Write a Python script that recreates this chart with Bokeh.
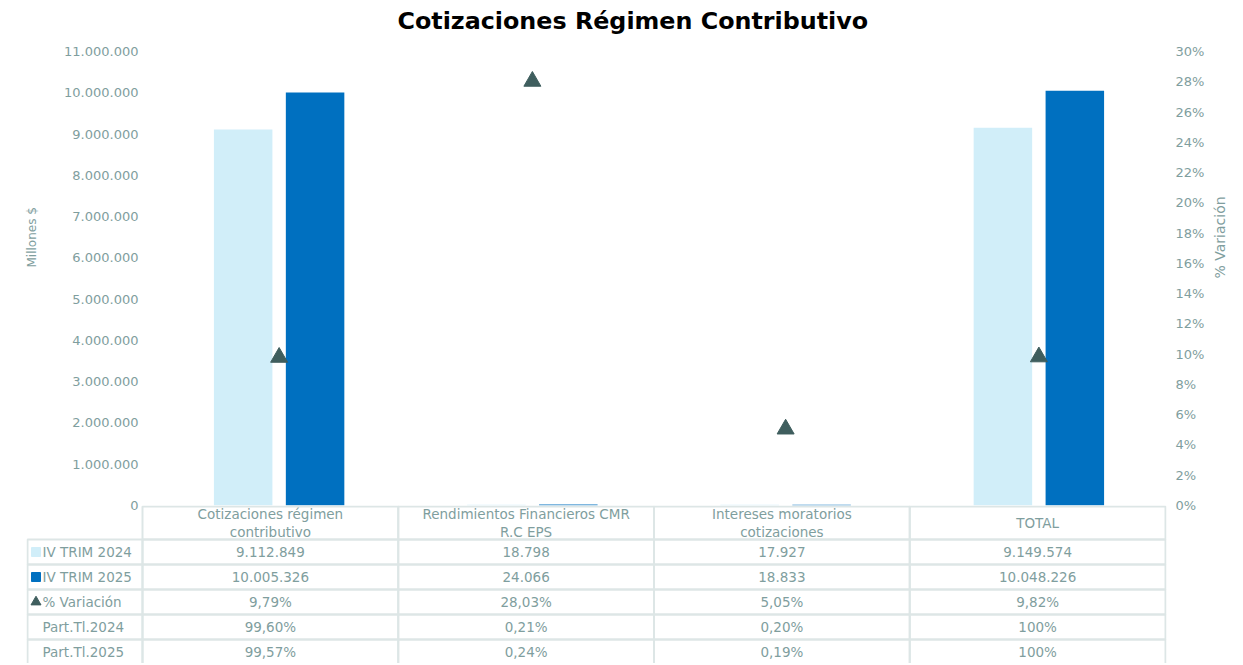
import math
import numpy as np
from bokeh.plotting import figure
from bokeh.models import (ColumnDataSource, Range1d, LinearAxis, FixedTicker,
                          CustomJSTickFormatter, Title)
from bokeh.transform import dodge
from bokeh.core.properties import value
from bokeh.embed import file_html
from bokeh.resources import INLINE

# ---------------- data ----------------
categories = ["Cotizaciones régimen\ncontributivo",
              "Rendimientos Financieros CMR\nR.C EPS",
              "Intereses moratorios\ncotizaciones",
              "TOTAL"]
trim_2024 = [9112849, 18798, 17927, 9149574]
trim_2025 = [10005326, 24066, 18833, 10048226]
variacion = [9.79, 28.03, 5.05, 9.82]
part_2024 = [99.60, 0.21, 0.20, 100]
part_2025 = [99.57, 0.24, 0.19, 100]
row_labels = ["IV TRIM 2024", "IV TRIM 2025", "% Variación", "Part.Tl.2024", "Part.Tl.2025"]
left_ticks = [0, 1000000, 2000000, 3000000, 4000000, 5000000, 6000000,
              7000000, 8000000, 9000000, 10000000, 11000000]
right_ticks = [0, 2, 4, 6, 8, 10, 12, 14, 16, 18, 20, 22, 24, 26, 28, 30]

# ---------------- style ----------------
C24 = "#D1EEF9"
C25 = "#0070C0"
CTRI = "#3F5E5E"
TXT = "#7F9E9E"
GRID = "#DDE6E6"
FONT = "DejaVu Sans"

Y_MAX = 11000000
P_MAX = 30


def fmt_int(v):
    return f"{v:,}".replace(",", ".")


def fmt_pct(v):
    if v == 100:
        return "100%"
    return f"{v:.2f}%".replace(".", ",")


def bare_axis(ax):
    ax.major_tick_out = 0
    ax.major_tick_in = 0
    ax.minor_tick_out = 0
    ax.minor_tick_in = 0
    ax.axis_line_color = None
    ax.major_tick_line_color = None
    ax.minor_tick_line_color = None
    ax.major_label_text_font = FONT
    ax.major_label_text_font_size = "13px"
    ax.major_label_text_color = TXT
    ax.axis_label_text_font = FONT
    ax.axis_label_text_font_style = "normal"
    ax.axis_label_text_color = TXT


n = len(categories)
xs = np.arange(n) + 0.5

src = ColumnDataSource(dict(x=xs, y24=trim_2024, y25=trim_2025, var=variacion))

# ---------------- chart ----------------
p = figure(width=1243, height=525, x_range=Range1d(0, n), y_range=Range1d(0, Y_MAX),
           output_backend="svg", toolbar_location=None,
           x_axis_location=None,
           min_border_left=142, min_border_right=78, min_border_top=51, min_border_bottom=8)
p.margin = (-12, 0, 0, 0)
p.title.text = "Cotizaciones Régimen Contributivo"
p.title.align = "left"
p.title.offset = 245
p.title.standoff = 33
p.title.text_font = FONT
p.title.text_font_size = "23.8px"
p.title.text_font_style = "bold"
p.title.text_color = "#000000"
p.grid.visible = False
p.outline_line_color = None
p.border_fill_color = None

p.vbar(x=dodge("x", -0.142, range=p.x_range), top="y24", width=0.231, source=src,
       fill_color=C24, line_color=None)
p.vbar(x=dodge("x", 0.142, range=p.x_range), top="y25", width=0.231, source=src,
       fill_color=C25, line_color=None)

p.extra_y_ranges = {"pct": Range1d(0, P_MAX)}
p.scatter(x="x", y="var", source=src, y_range_name="pct", marker="triangle",
          size=17, fill_color=CTRI, line_color=CTRI)

# left value axis
ya = p.yaxis[0]
ya.ticker = FixedTicker(ticks=left_ticks)
ya.formatter = CustomJSTickFormatter(
    code="return Math.round(tick).toString().replace(/\\B(?=(\\d{3})+(?!\\d))/g, '.');")
bare_axis(ya)
ya.major_label_standoff = 14

# left axis title, placed a little above the middle as in the reference
p.add_layout(Title(text="Millones $", align="left", offset=238, standoff=45,
                   text_font=FONT, text_font_size="12px", text_font_style="normal",
                   text_color=TXT), "left")

# right percentage axis
ra = LinearAxis(y_range_name="pct", ticker=FixedTicker(ticks=right_ticks),
                formatter=CustomJSTickFormatter(code="return tick + '%';"))
bare_axis(ra)
ra.major_label_standoff = 10
p.add_layout(ra, "right")

# outer right axis carrying only the title, reading bottom-to-top
ra_t = LinearAxis(y_range_name="pct", ticker=FixedTicker(ticks=[]),
                  axis_label="% Variación")
bare_axis(ra_t)
ra_t.axis_label_text_font_size = "14px"
ra_t.axis_label_standoff = 12
ra_t.axis_label_orientation = math.pi / 2
p.add_layout(ra_t, "right")

# ---------------- table ----------------
px_per_unit = 1023 / n          # same horizontal scale as the chart frame
label_w = 115 / px_per_unit     # width of the row-label column
header_h = 33 / 25              # header height in row units (row = 25 px)

t = figure(width=1240, height=158,
           x_range=Range1d(-(116 / px_per_unit), n + 1 / px_per_unit),
           y_range=Range1d(-(header_h + 5) + 0.04, 0.04),
           output_backend="svg", toolbar_location=None,
           x_axis_location=None, y_axis_location=None,
           min_border_left=26, min_border_right=74, min_border_top=0, min_border_bottom=0)
t.grid.visible = False
t.outline_line_color = None
t.background_fill_color = None
t.border_fill_color = None
t.margin = (-8, 0, 0, 0)

# header cells
hx = list(xs)
hy = [-header_h / 2] * n
t.rect(x=hx, y=hy, width=1, height=header_h, fill_alpha=0, line_color=GRID, line_width=2)
t.text(x=hx, y=hy, text=categories, text_align="center", text_baseline="middle",
       text_font=value(FONT), text_font_size="13.5px", text_color=TXT, text_line_height=1.1)

rows = [[fmt_int(v) for v in trim_2024],
        [fmt_int(v) for v in trim_2025],
        [fmt_pct(v) for v in variacion],
        [fmt_pct(v) for v in part_2024],
        [fmt_pct(v) for v in part_2025]]

cx, cy, ctext = [], [], []
for r, vals in enumerate(rows):
    for i, s in enumerate(vals):
        cx.append(xs[i])
        cy.append(-(header_h + r + 0.5))
        ctext.append(s)
t.rect(x=cx, y=cy, width=1, height=1, fill_alpha=0, line_color=GRID, line_width=2)
t.text(x=cx, y=cy, text=ctext, text_align="center", text_baseline="middle",
       text_font=value(FONT), text_font_size="13.5px", text_color=TXT)

# row label cells
ly = [-(header_h + r + 0.5) for r in range(len(row_labels))]
t.rect(x=[-label_w / 2] * len(row_labels), y=ly, width=label_w, height=1,
       fill_alpha=0, line_color=GRID, line_width=2)
t.text(x=[-label_w + 15 / px_per_unit] * len(row_labels), y=ly, text=row_labels,
       text_align="left", text_baseline="middle",
       text_font=value(FONT), text_font_size="13.5px", text_color=TXT)
t.scatter(x=[-label_w + 8.5 / px_per_unit] * 3, y=ly[:3],
          marker=["square", "square", "triangle"],
          size=[9, 9, 10], fill_color=[C24, C25, CTRI], line_color=[C24, C25, CTRI])

open("out.html", "w").write(file_html([p, t], INLINE))
